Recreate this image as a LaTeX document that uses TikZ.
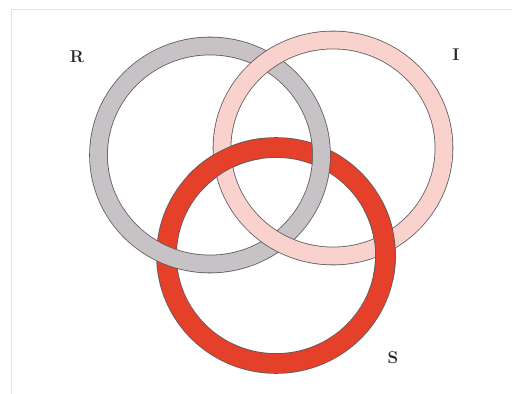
\documentclass[tikz,border=0pt]{standalone}
\definecolor{ringgray}{RGB}{198,194,198}
\definecolor{ringpink}{RGB}{249,210,205}
\definecolor{ringred}{RGB}{228,64,42}
\definecolor{edgecol}{RGB}{95,90,92}
\definecolor{framecol}{RGB}{228,228,228}
\definecolor{labelcol}{RGB}{40,40,40}
\tikzset{
  frameline/.style={draw=framecol, line width=0.8pt},
  edgeband/.style={draw=edgecol, line width=#1+1.6pt},
  colband/.style={line width=#1},
  lbl/.style={text=labelcol, font=\fontsize{17}{19}\selectfont\bfseries, inner sep=0pt}
}
\begin{document}
\begin{tikzpicture}[x=1pt,y=1pt]
\useasboundingbox (0,0) rectangle (512,394);
\fill[white] (0,0) rectangle (512,394);
\coordinate (ftr) at (512,384.7);
\coordinate (ftl) at (11,384.7);
\coordinate (fbl) at (11,0);
\draw[frameline] (ftr) -- (ftl) -- (fbl);
\coordinate (cR) at (210,239);
\coordinate (cI) at (333,246);
\coordinate (cS) at (276,138.5);
% red ring S (under gray)
\draw[edgeband=19pt] (cS) ellipse[x radius=109.5, y radius=108];
\draw[colband=19pt, draw=ringred] (cS) ellipse[x radius=109.5, y radius=108];
% gray ring R (over red, under pink)
\draw[edgeband=17pt] (cR) ellipse[x radius=111.5, y radius=109];
\draw[colband=17pt, draw=ringgray] (cR) ellipse[x radius=111.5, y radius=109];
% pink ring I (over gray)
\draw[edgeband=17pt] (cI) ellipse[x radius=111, y radius=108];
\draw[colband=17pt, draw=ringpink] (cI) ellipse[x radius=111, y radius=108];
% red over pink at both crossings
\draw[edgeband=19pt] (cS) ++(98:109.5 and 108) arc[start angle=98, end angle=138, x radius=109.5, y radius=108];
\draw[colband=19pt, draw=ringred] (cS) ++(97:109.5 and 108) arc[start angle=97, end angle=139, x radius=109.5, y radius=108];
\draw[edgeband=19pt] (cS) ++(-12:109.5 and 108) arc[start angle=-12, end angle=28, x radius=109.5, y radius=108];
\draw[colband=19pt, draw=ringred] (cS) ++(-13:109.5 and 108) arc[start angle=-13, end angle=29, x radius=109.5, y radius=108];
\node[lbl] (R) at (77,337) {R};
\node[lbl] (I) at (456,339) {I};
\node[lbl] (S) at (393,36) {S};
\end{tikzpicture}
\end{document}
